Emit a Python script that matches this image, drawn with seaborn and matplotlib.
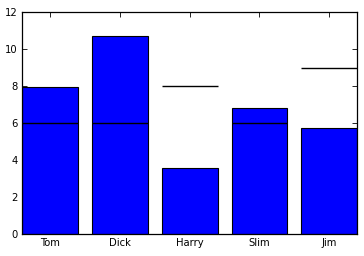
import matplotlib
matplotlib.use("Agg")
import matplotlib.pyplot as plt
import seaborn as sns
import pandas as pd
import numpy as np

names = ["Tom", "Dick", "Harry", "Slim", "Jim"]
values = [7.95, 10.7, 3.57, 6.81, 5.73]
targets = [6, 6, 8, 6, 9]

sns.set_style("ticks")
plt.rcParams['font.family'] = ['DejaVu Sans']

fig = plt.figure(figsize=(3.64, 2.56), dpi=100)
ax = fig.add_axes([0.0604, 0.086, 0.921, 0.867])

df = pd.DataFrame({"name": names, "value": values})
sns.barplot(data=df, x="name", y="value", color="#0000ff", saturation=1,
            edgecolor="black", linewidth=0.8, width=0.8, ax=ax)

pos = np.arange(len(names))
ax.hlines(targets, pos - 0.4, pos + 0.4, colors="black", linewidth=1)

ax.set_xlim(-0.4, len(names) - 0.6)
ax.set_ylim(0, 12)
ax.set_yticks(range(0, 13, 2))
ax.set_xlabel("")
ax.set_ylabel("")
for s in ax.spines.values():
    s.set_visible(True)
    s.set_linewidth(0.9)
    s.set_color("black")
ax.tick_params(direction="in", top=True, right=True, length=3.5, width=0.6,
               labelsize=7.2, pad=3, colors="black")

fig.savefig("out.png", dpi=100)
